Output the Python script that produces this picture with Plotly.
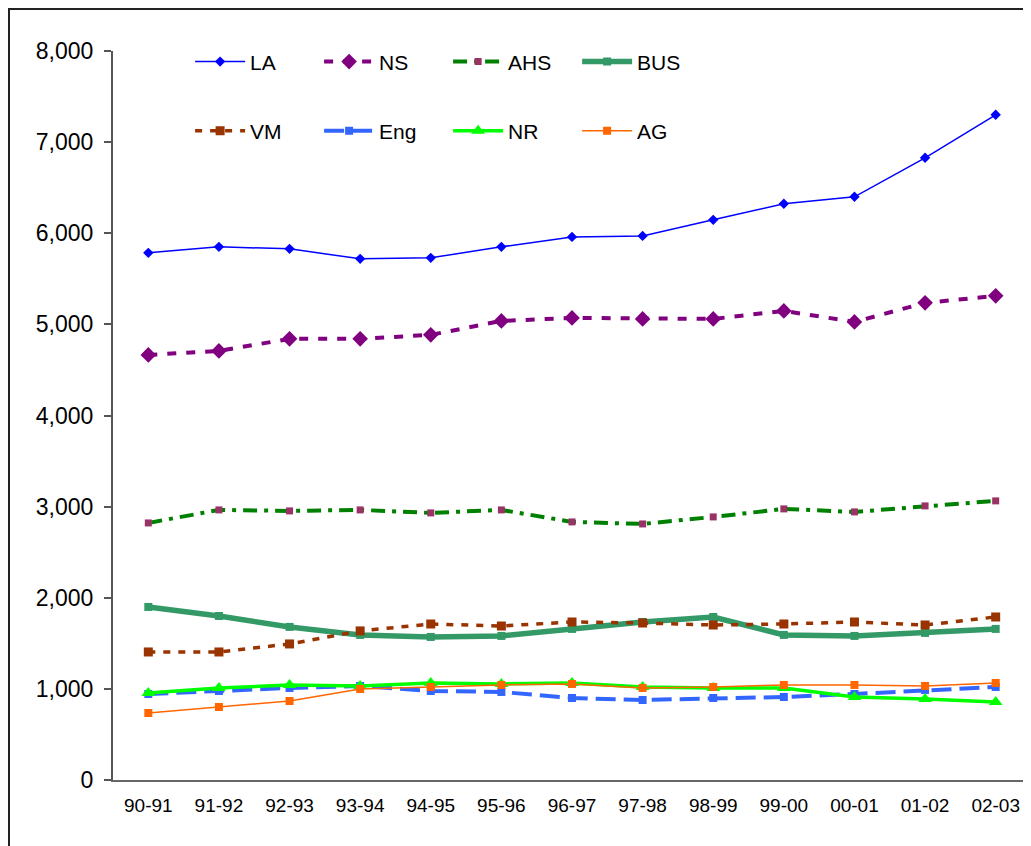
import plotly.graph_objects as go

years = ["90-91", "91-92", "92-93", "93-94", "94-95", "95-96", "96-97",
         "97-98", "98-99", "99-00", "00-01", "01-02", "02-03"]

LA = [5785, 5851, 5829, 5719, 5730, 5851, 5960, 5971, 6147, 6323, 6400, 6828, 7300]
NS = [4665, 4709, 4841, 4841, 4885, 5038, 5071, 5060, 5060, 5148, 5027, 5236, 5313]
AHS = [2821, 2964, 2953, 2964, 2931, 2964, 2832, 2810, 2887, 2975, 2942, 3008, 3063]
BUS = [1899, 1800, 1680, 1592, 1570, 1581, 1658, 1734, 1789, 1592, 1581, 1614, 1658]
VM = [1405, 1405, 1493, 1636, 1712, 1690, 1734, 1723, 1701, 1712, 1734, 1701, 1789]
Eng = [944, 977, 1010, 1032, 977, 966, 900, 878, 900, 911, 944, 988, 1021]
NR = [955, 1010, 1043, 1032, 1065, 1054, 1065, 1021, 1010, 1010, 911, 889, 856]
AG = [735, 801, 867, 999, 1021, 1043, 1054, 1010, 1021, 1043, 1043, 1032, 1065]

y_ticks = [0, 1000, 2000, 3000, 4000, 5000, 6000, 7000, 8000]

series = [
    ("LA", LA, dict(color="#0000FF", width=1.5, dash="solid"),
     dict(symbol="diamond", size=8, color="#0000FF"), "legend"),
    ("NS", NS, dict(color="#800080", width=4, dash="9px,10px"),
     dict(symbol="diamond", size=12, color="#800080"), "legend"),
    ("AHS", AHS, dict(color="#008000", width=4, dash="14px,7px,4px,7px"),
     dict(symbol="square", size=7, color="#993366"), "legend"),
    ("BUS", BUS, dict(color="#339966", width=5.5, dash="solid"),
     dict(symbol="square", size=8, color="#339966"), "legend"),
    ("VM", VM, dict(color="#993300", width=3.5, dash="7px,8px"),
     dict(symbol="square", size=9, color="#993300"), "legend2"),
    ("Eng", Eng, dict(color="#3366FF", width=4, dash="20px,8px"),
     dict(symbol="square", size=8, color="#3366FF"), "legend2"),
    ("NR", NR, dict(color="#00FF00", width=3.5, dash="solid"),
     dict(symbol="triangle-up", size=12, color="#00FF00"), "legend2"),
    ("AG", AG, dict(color="#FF6600", width=1.5, dash="solid"),
     dict(symbol="square", size=8, color="#FF6600"), "legend2"),
]

fig = go.Figure()
for name, vals, line, marker, leg in series:
    fig.add_trace(go.Scatter(x=years, y=vals, name=name, mode="lines+markers",
                             line=line, marker=marker, legend=leg))

legend_common = dict(orientation="h", xanchor="left", yanchor="middle",
                     font=dict(family="Liberation Sans, Arial", size=21, color="#000000"),
                     entrywidth=64, entrywidthmode="pixels",
                     bgcolor="rgba(0,0,0,0)", itemwidth=50)

fig.update_layout(
    width=1023, height=838,
    margin=dict(l=105, r=0, t=43, b=66),
    paper_bgcolor="white", plot_bgcolor="white",
    font=dict(family="Liberation Sans, Arial", color="#000000"),
    showlegend=True,
    legend=dict(x=0.084, y=0.985, **legend_common),
    legend2=dict(x=0.084, y=0.890, **legend_common),
    xaxis=dict(type="category", range=[-0.5, 12.5], showgrid=False,
               showline=True, linecolor="#666666", linewidth=2,
               ticks="", tickfont=dict(size=19), ticklabelstandoff=7,
               zeroline=False),
    yaxis=dict(range=[0, 8000], tickvals=y_ticks, tickformat=",",
               showgrid=False, showline=True, linecolor="#555555", linewidth=2,
               ticks="outside", ticklen=7, tickwidth=1.5, tickcolor="#555555",
               tickfont=dict(size=23), ticklabelstandoff=6, zeroline=False),
    shapes=[dict(type="rect", xref="paper", yref="paper",
                 x0=(1 - 105) / 918, x1=1.2, y0=-0.3, y1=(772 - 1) / 729,
                 line=dict(color="#222222", width=2), fillcolor="rgba(0,0,0,0)",
                 layer="below")],
)

fig.write_html("out.html")
